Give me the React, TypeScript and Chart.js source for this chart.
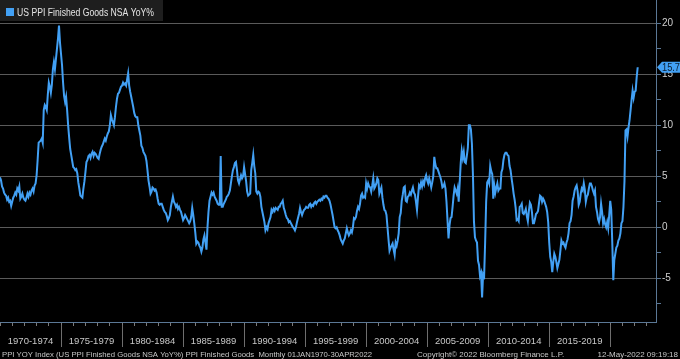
import React, { useEffect, useRef } from "react";
import { Chart, registerables } from "chart.js";

Chart.register(...registerables);

// Monthly US PPI Finished Goods NSA YoY%, Jan 1970 - Apr 2022
const ppi1970s = [
  4.9, 4.6, 4.0, 3.8, 3.4, 3.2, 3.1, 2.7, 2.9, 2.5, 2.6, 2.1,
  2.5, 2.9, 3.1, 3.4, 3.2, 3.8, 3.6, 4.0, 2.8, 3.0, 3.3, 2.9,
  2.7, 2.6, 2.9, 3.3, 3.0, 3.4, 3.2, 3.6, 3.8, 3.5, 4.1, 4.3,
  5.1, 6.6, 8.3, 8.4, 8.5, 8.7, 8.3, 11.5, 12.0, 11.8, 11.5, 13.0,
  14.2, 13.8, 13.2, 14.0, 15.5, 16.2, 15.5, 16.5, 17.5, 18.5, 19.8, 18.1,
  17.0, 15.9, 14.2, 12.9, 12.3, 12.8, 11.5, 10.0, 8.8, 7.7, 7.1, 6.5,
  5.9, 5.8, 5.6, 5.7, 5.3, 4.4, 3.8, 3.1, 3.0, 2.9, 3.8, 4.5,
  5.4, 6.4, 6.6, 7.0, 7.1, 6.8, 7.2, 7.4, 7.0, 7.3, 7.2, 7.0,
  6.8, 6.7, 7.2, 7.6, 7.9, 8.1, 8.4, 8.7, 8.5, 8.9, 9.2, 9.4,
  10.0, 11.0, 10.6, 10.3, 10.0, 10.8, 11.8, 12.6, 13.1, 13.2, 13.5, 13.8,
];
const ppi1980s = [
  13.9, 14.2, 14.0, 14.1, 13.9, 14.5, 15.1, 13.9, 13.3, 12.8, 12.3, 11.8,
  11.2, 10.9, 10.8, 10.8, 10.0, 9.5, 9.0, 8.0, 7.8, 7.4, 7.2, 7.0,
  6.5, 5.6, 4.6, 4.0, 3.3, 3.5, 3.9, 3.8, 3.6, 3.7, 3.4, 2.8,
  2.3, 2.2, 2.3, 2.3, 2.0, 1.7, 1.5, 1.4, 1.1, 0.7, 0.9, 1.2,
  2.0, 2.5, 3.0, 2.5, 2.3, 2.0, 2.2, 1.8, 2.0, 1.7, 1.5, 1.1,
  0.7, 0.9, 1.2, 1.0, 0.8, 0.6, 0.4, 0.6, 1.0, 1.9, 1.2, 0.4,
  -0.5, -1.6, -1.4, -1.5, -1.8, -2.0, -2.4, -2.0, -1.2, -0.8, -1.5, -2.2,
  0.0, 1.5, 2.6, 3.0, 3.4, 3.2, 3.4, 3.0, 2.8, 2.6, 2.3, 2.2,
  2.2, 7.0, 2.0, 2.0, 2.3, 2.5, 2.7, 3.0, 3.1, 3.3, 3.6, 4.3,
  5.0, 5.6, 5.9, 6.3, 6.4, 5.6, 4.6, 4.3, 4.7, 5.1, 4.8, 5.0,
];
const ppi1990s = [
  5.9, 5.2, 4.5, 3.5, 3.1, 3.2, 3.3, 5.6, 6.3, 7.1, 6.0, 5.3,
  3.5, 3.3, 3.5, 3.4, 3.0, 2.0, 1.5, 1.0, 0.5, -0.3, 0.0, -0.2,
  0.4, 0.7, 1.0, 1.7, 1.5, 1.8, 1.6, 1.9, 1.8, 1.7, 2.0, 2.0,
  2.3, 2.4, 2.6, 1.9, 1.6, 1.2, 0.9, 0.8, 0.5, 0.6, 0.4, 0.2,
  0.0, -0.1, -0.3, 0.0, 0.5, 0.9, 1.3, 1.9, 1.5, 1.2, 1.5, 1.7,
  1.8, 2.0, 1.9, 1.9, 2.2, 2.3, 2.0, 2.2, 2.1, 2.4, 2.5, 2.3,
  2.5, 2.6, 2.7, 2.6, 2.8, 2.7, 3.0, 2.9, 3.1, 3.1, 2.9, 2.8,
  2.6, 2.2, 1.7, 1.2, 0.6, 0.0, -0.1, 0.0, -0.3, -0.5, -0.8, -1.2,
  -1.4, -1.6, -1.3, -1.1, -0.6, -0.1, -0.5, -0.8, -0.6, -0.3, -0.5, 0.0,
  0.9, 0.8, 1.0, 1.6, 2.0, 1.8, 2.3, 3.1, 3.3, 2.9, 3.0, 2.9,
];
const ppi2000s = [
  4.3, 3.8, 4.3, 4.0, 3.9, 3.5, 4.1, 4.8, 3.8, 4.0, 4.3, 4.8,
  4.6, 3.3, 3.6, 3.9, 2.9, 2.2, 1.7, 1.6, 1.2, 0.0, -1.2, -2.3,
  -2.0, -1.8, -1.6, -2.2, -2.7, -1.5, -1.8, -1.3, -0.6, 1.0, 1.4, 2.6,
  3.2, 3.9, 4.0, 2.6, 2.5, 3.0, 3.1, 3.4, 3.2, 3.6, 3.9, 3.4,
  3.2, 2.5, 1.7, 3.0, 4.1, 3.9, 4.4, 4.0, 4.5, 4.2, 4.8, 5.1,
  4.6, 4.3, 4.8, 4.4, 3.9, 4.4, 5.0, 6.9, 6.2, 5.8, 5.8, 5.5,
  5.2, 4.9, 4.5, 3.9, 4.0, 4.3, 3.8, 2.5, 0.7, -1.1, 0.2, 0.9,
  1.0, 2.0, 3.1, 3.9, 3.6, 3.3, 3.8, 2.5, 4.4, 6.3, 7.5, 6.8,
  7.4, 6.4, 6.3, 7.0, 7.8, 10.0, 10.0, 9.6, 8.2, 5.2, 0.6, -1.0,
  -1.3, -1.5, -3.3, -3.7, -4.8, -4.5, -6.9, -4.6, -4.8, -1.5, 2.5, 4.4,
];
const ppi2010s = [
  4.6, 4.3, 6.0, 5.5, 5.2, 2.8, 4.1, 3.4, 3.9, 4.3, 3.6, 3.8,
  3.8, 5.4, 5.7, 6.6, 7.1, 7.3, 7.3, 7.1, 7.0, 6.0, 5.6, 4.8,
  4.1, 3.3, 2.7, 1.9, 0.7, 0.8, 0.6, 2.0, 2.1, 2.3, 1.4, 1.3,
  1.5, 1.8, 1.1, 0.6, 1.6, 2.4, 2.2, 1.5, 0.4, 0.4, 0.8, 1.3,
  1.4, 1.6, 2.4, 3.1, 3.0, 2.5, 2.8, 2.6, 2.3, 2.0, 1.5, 0.5,
  -1.5, -2.9, -3.4, -4.4, -3.4, -2.6, -2.9, -3.4, -4.0, -3.6, -3.2, -2.3,
  -1.3, -1.6, -1.5, -1.8, -2.0, -1.5, -1.2, -0.6, 0.4, 0.6, 1.2, 2.6,
  3.0, 3.6, 3.9, 4.1, 3.5, 2.2, 2.5, 3.3, 3.8, 3.6, 4.3, 3.7,
  2.5, 3.0, 3.2, 3.8, 4.3, 4.3, 4.0, 3.6, 3.3, 3.6, 2.0, 1.5,
  0.8, 0.5, 1.0, 2.3, 1.5, 0.4, 0.8, 0.3, 0.0, 0.5, -0.1, 1.2,
];
const ppi2020s = [
  2.6, 1.7, -1.5, -5.2, -3.2, -2.6, -2.0, -1.8, -1.3, -1.1, -0.6, 0.4,
  0.6, 2.0, 4.5, 9.5, 9.6, 8.9, 9.8, 10.5, 11.5, 12.5, 13.4, 12.7,
  13.3, 13.4, 14.7, 15.7,
];

const ppiSeries = [...ppi1970s, ...ppi1980s, ...ppi1990s, ...ppi2000s, ...ppi2010s, ...ppi2020s];

const spanLabels = [
  "1970-1974", "1975-1979", "1980-1984", "1985-1989", "1990-1994",
  "1995-1999", "2000-2004", "2005-2009", "2010-2014", "2015-2019",
];
const yTickValues = [-7.5, -5, -2.5, 0, 2.5, 5, 7.5, 10, 12.5, 15, 17.5, 20];

const legendLabel = "US PPI Finished Goods NSA YoY%";
const footerLeft = "PPI YOY Index (US PPI Finished Goods NSA YoY%) PPI Finished Goods  Monthly 01JAN1970-30APR2022";
const footerCenter = "Copyright\u00a9 2022 Bloomberg Finance L.P.";
const footerRight = "12-May-2022 09:19:18";

const X_MAX_MONTHS = 645;
const LINE_COLOR = "#42a0f4";
const AXIS_COLOR = "#5b7896";
const FONT = '"Liberation Sans", Arial, sans-serif';

const overlayPlugin = {
  id: "bbgOverlay",
  afterDraw(chart: any) {
    const ctx = chart.ctx;
    const xs = chart.scales.x;
    const ys = chart.scales.y;
    const area = chart.chartArea;
    ctx.save();

    // 5-year span separators under the x axis
    ctx.strokeStyle = "#6e6e6e";
    ctx.lineWidth = 1;
    for (let m = 60; m < ppiSeries.length; m += 60) {
      const px = Math.round(xs.getPixelForValue(m)) + 0.5;
      ctx.beginPath();
      ctx.moveTo(px, area.bottom + 3);
      ctx.lineTo(px, area.bottom + 25);
      ctx.stroke();
    }

    // legend box
    ctx.fillStyle = "#1e1e1e";
    ctx.fillRect(0, 0, 163, 21);
    ctx.fillStyle = LINE_COLOR;
    ctx.fillRect(6, 8, 8, 8);
    ctx.fillStyle = "#e4e4e4";
    ctx.font = `11px ${FONT}`;
    ctx.textAlign = "left";
    ctx.textBaseline = "alphabetic";
    ctx.fillText(legendLabel, 17, 16, 137);

    // last value tag
    const lastVal = ppiSeries[ppiSeries.length - 1];
    const ty = ys.getPixelForValue(lastVal);
    const bx = area.right + 1;
    const W = chart.width;
    ctx.fillStyle = LINE_COLOR;
    ctx.beginPath();
    ctx.moveTo(bx, ty);
    ctx.lineTo(bx + 5, ty - 5.5);
    ctx.lineTo(W, ty - 5.5);
    ctx.lineTo(W, ty + 5.5);
    ctx.lineTo(bx + 5, ty + 5.5);
    ctx.closePath();
    ctx.fill();
    ctx.fillStyle = "#0b1d30";
    ctx.font = `10px ${FONT}`;
    ctx.textBaseline = "middle";
    ctx.fillText(lastVal.toFixed(1), bx + 5, ty + 0.5, W - bx - 5);

    // footer
    ctx.fillStyle = "#c8c8c8";
    ctx.font = `8px ${FONT}`;
    ctx.textBaseline = "alphabetic";
    ctx.textAlign = "left";
    ctx.fillText(footerLeft, 2, 357, 370);
    ctx.fillText(footerCenter, 417, 357, 150);
    ctx.textAlign = "right";
    ctx.fillText(footerRight, 678, 357, 81);

    ctx.restore();
  },
};

export default function App() {
  const canvasRef = useRef<HTMLCanvasElement | null>(null);

  useEffect(() => {
    document.body.style.margin = "0";
    document.body.style.background = "#000";
    const canvas = canvasRef.current;
    if (!canvas) return;

    const points = ppiSeries.map((v, i) => ({ x: i, y: v }));

    const xTicks: number[] = [];
    for (let m = 0; m <= X_MAX_MONTHS; m += 12) xTicks.push(m);
    spanLabels.forEach((_, i) => xTicks.push(i * 60 + 30));
    xTicks.sort((a, b) => a - b);

    const chart = new Chart(canvas, {
      type: "line",
      data: {
        datasets: [
          {
            label: legendLabel,
            data: points,
            borderColor: LINE_COLOR,
            borderWidth: 2,
            pointRadius: 0,
            tension: 0,
            fill: false,
          },
        ],
      },
      options: {
        responsive: false,
        animation: false,
        devicePixelRatio: 1,
        layout: { padding: 0 },
        plugins: {
          legend: { display: false },
          tooltip: { enabled: false },
        },
        scales: {
          x: {
            type: "linear",
            min: 0,
            max: X_MAX_MONTHS,
            afterBuildTicks: (scale: any) => {
              scale.ticks = xTicks.map((v) => ({ value: v }));
            },
            afterFit: (scale: any) => {
              scale.height = 37;
              scale.paddingLeft = 0;
              scale.paddingRight = 0;
            },
            grid: {
              display: true,
              drawOnChartArea: false,
              drawTicks: true,
              tickLength: 4,
              color: "rgba(0,0,0,0)",
              tickColor: (c: any) =>
                c.tick && c.tick.value % 12 === 0 ? "#7a7a7a" : "rgba(0,0,0,0)",
            },
            border: { display: true, color: AXIS_COLOR, width: 1 },
            ticks: {
              autoSkip: false,
              maxRotation: 0,
              minRotation: 0,
              padding: 10,
              color: "#c8c8c8",
              font: { family: FONT, size: 9.5 },
              callback: (v: any) => {
                const n = Number(v);
                if (n % 60 === 30) return spanLabels[(n - 30) / 60] ?? "";
                return "";
              },
            },
          },
          y: {
            type: "linear",
            position: "right",
            min: -9.3,
            max: 22.3,
            afterBuildTicks: (scale: any) => {
              scale.ticks = yTickValues.map((v) => ({ value: v }));
            },
            afterFit: (scale: any) => {
              scale.width = 24;
              scale.paddingTop = 0;
              scale.paddingBottom = 0;
            },
            grid: {
              display: true,
              drawOnChartArea: true,
              drawTicks: true,
              tickLength: 5,
              color: (c: any) =>
                c.tick && c.tick.value % 5 === 0 ? "#5a5a5a" : "rgba(0,0,0,0)",
              tickColor: AXIS_COLOR,
            },
            border: { display: true, color: AXIS_COLOR, width: 1 },
            ticks: {
              padding: 1,
              color: "#cfcfcf",
              font: { family: FONT, size: 10 },
              callback: (v: any) => {
                const n = Number(v);
                return n % 5 === 0 ? String(n) : "";
              },
            },
          },
        },
      },
      plugins: [overlayPlugin],
    });

    return () => chart.destroy();
  }, []);

  return (
    <div style={{ position: "fixed", left: 0, top: 0, width: 680, height: 359, background: "#000" }}>
      <canvas ref={canvasRef} width={680} height={359} style={{ display: "block", width: 680, height: 359 }} />
    </div>
  );
}
